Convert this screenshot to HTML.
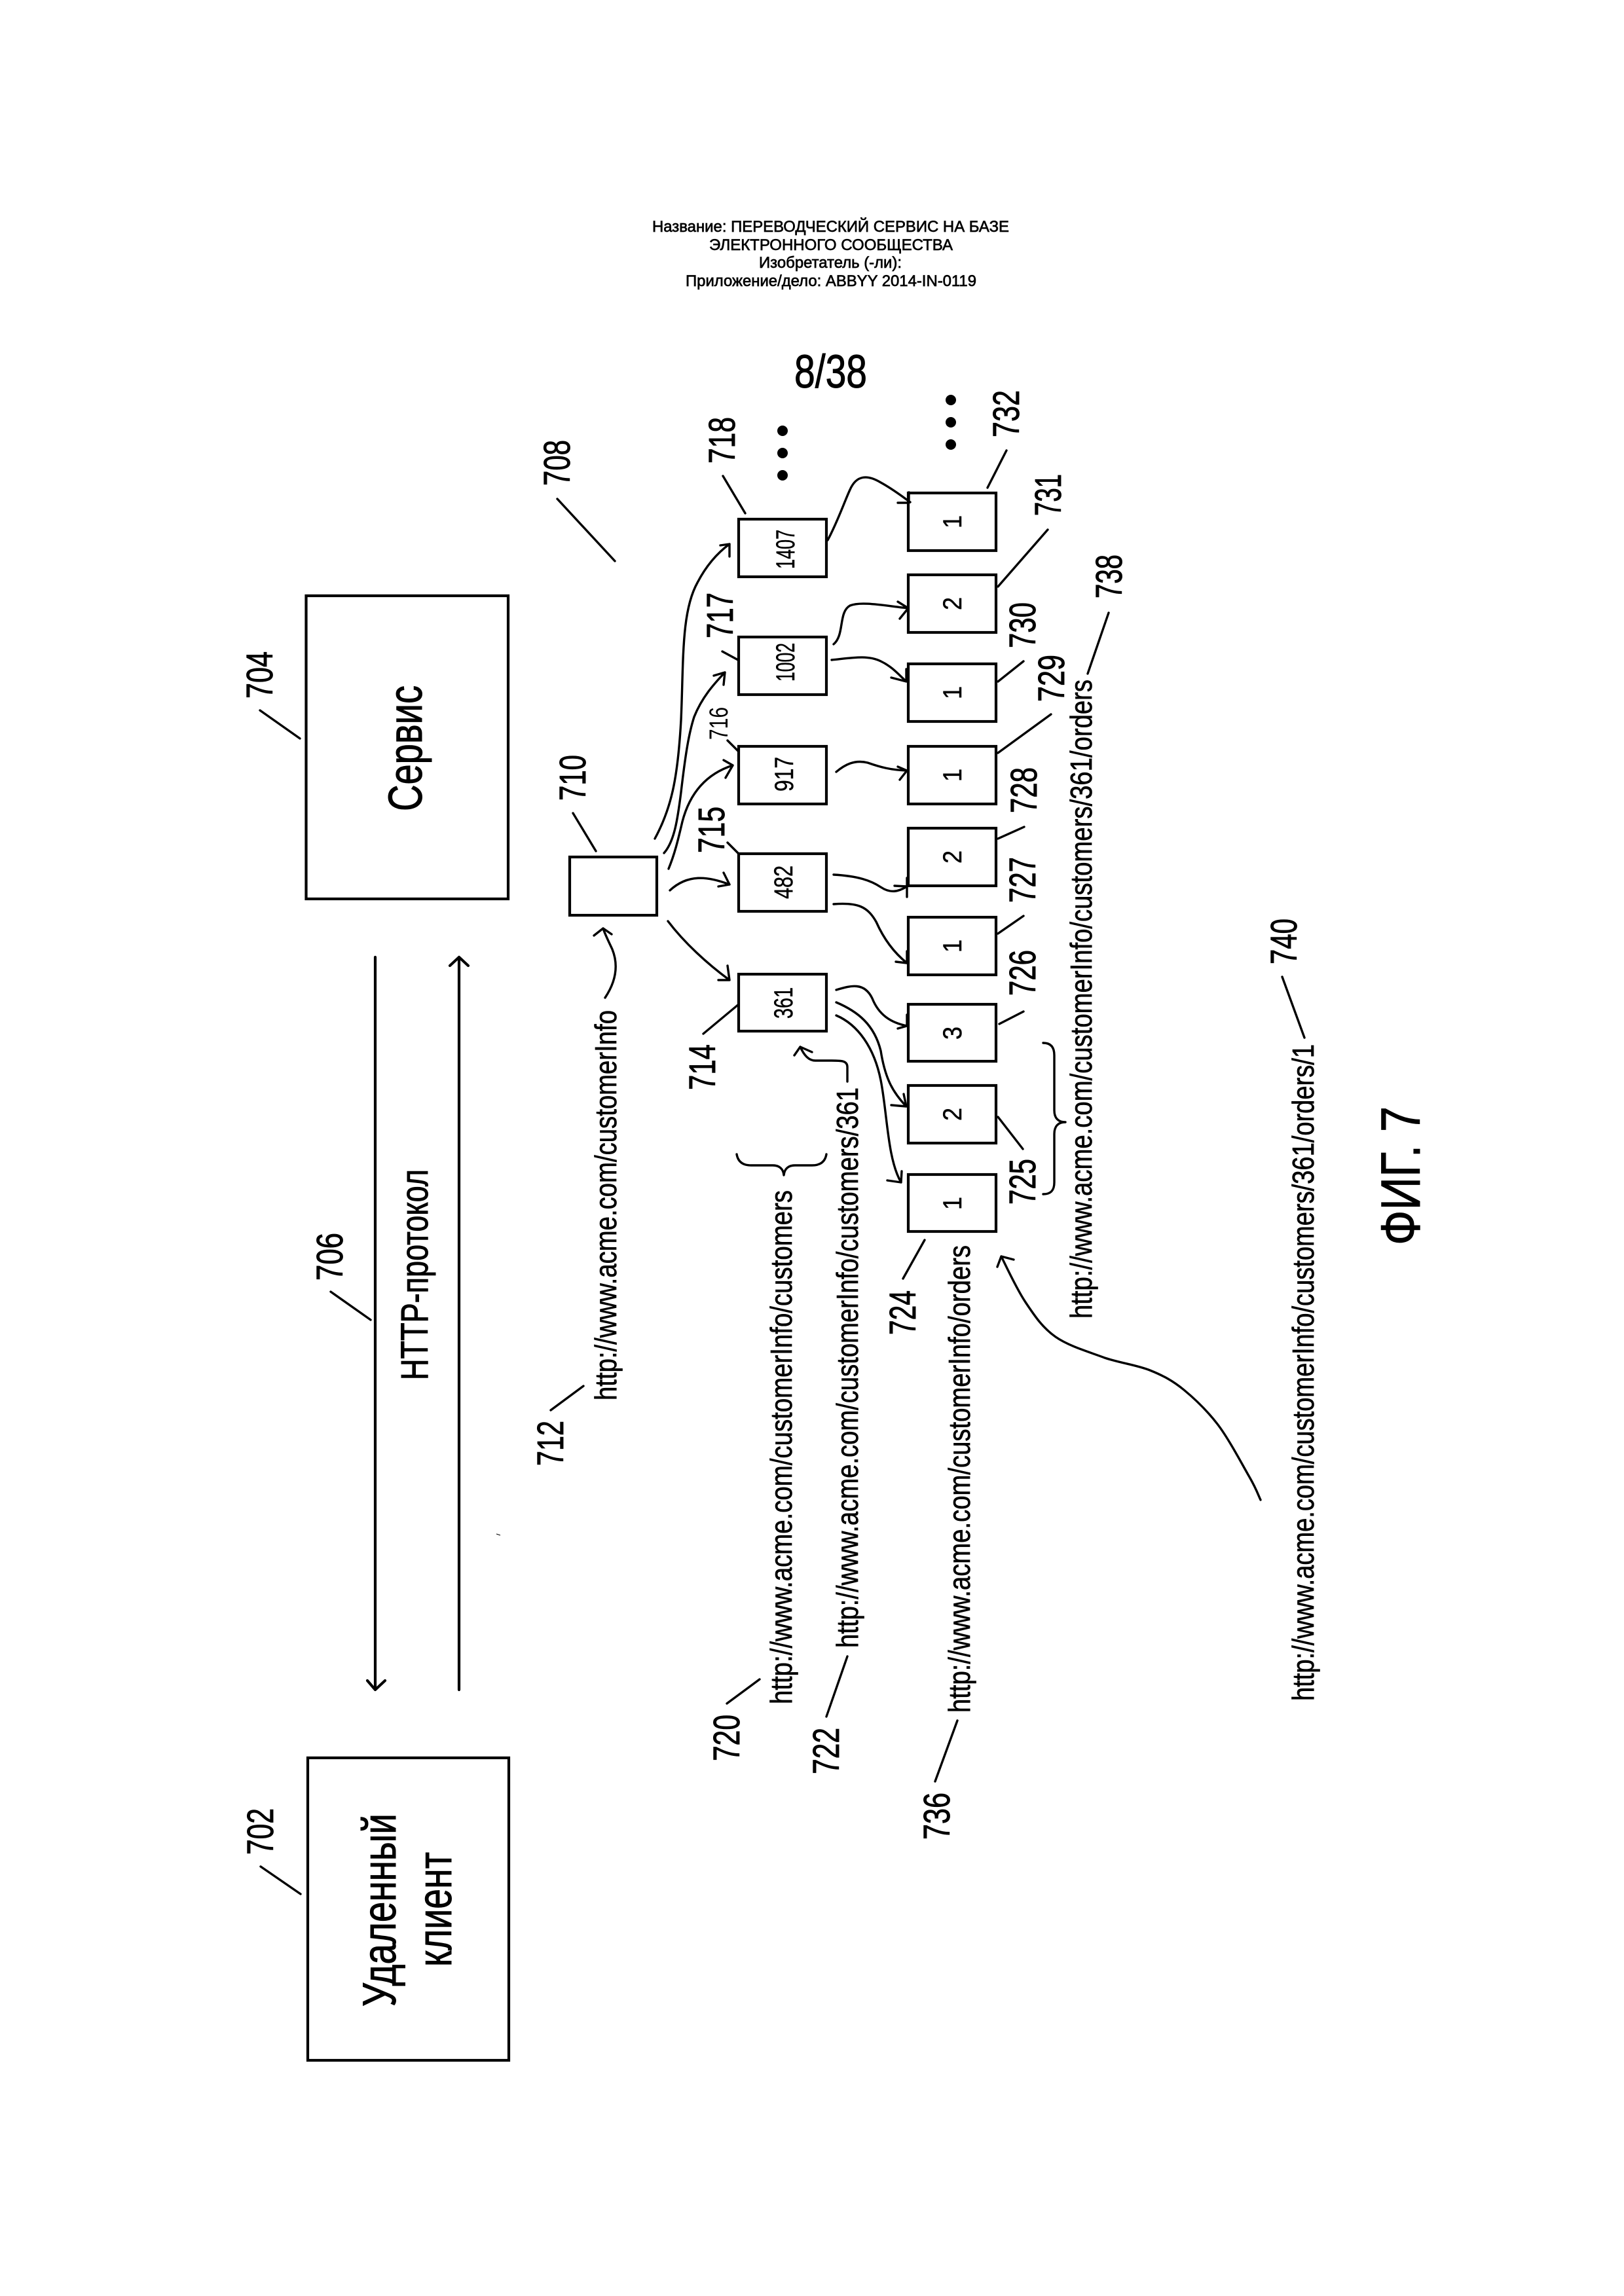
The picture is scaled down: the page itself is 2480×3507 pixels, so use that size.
<!DOCTYPE html>
<html lang="ru">
<head>
<meta charset="utf-8">
<title>ФИГ. 7</title>
<style>
html,body{margin:0;padding:0;background:#fff}
svg{display:block}
text{font-family:"Liberation Sans","DejaVu Sans",sans-serif;fill:#000}
.h{font-size:24px;stroke:#000;stroke-width:.7px}
.n{font-size:57px;stroke:#000;stroke-width:.9px}
.u{font-size:46px;stroke:#000;stroke-width:.7px}
.d{font-size:40px;stroke:#000;stroke-width:.5px}
.t{stroke:#000;stroke-width:1px}
.b{fill:#fff;stroke:#000;stroke-width:4.2}
.l{fill:none;stroke:#000;stroke-width:3.4;stroke-linecap:round;stroke-linejoin:round}
</style>
</head>
<body>
<svg xmlns="http://www.w3.org/2000/svg" width="2480" height="3507" viewBox="0 0 2480 3507">
<rect width="2480" height="3507" fill="#fff"/>

<!-- header -->
<text class="h" x="996" y="354" textLength="545" lengthAdjust="spacingAndGlyphs">Название: ПЕРЕВОДЧЕСКИЙ СЕРВИС НА БАЗЕ</text>
<text class="h" x="1083" y="382" textLength="372" lengthAdjust="spacingAndGlyphs">ЭЛЕКТРОННОГО СООБЩЕСТВА</text>
<text class="h" x="1159" y="409" textLength="218" lengthAdjust="spacingAndGlyphs">Изобретатель (-ли):</text>
<text class="h" x="1047" y="437" textLength="444" lengthAdjust="spacingAndGlyphs">Приложение/дело: ABBYY 2014-IN-0119</text>
<text class="t" x="1213" y="592" font-size="71" textLength="111" lengthAdjust="spacingAndGlyphs">8/38</text>

<!-- big boxes -->
<rect class="b" x="467.5" y="910" width="308.5" height="463"/>
<rect class="b" x="470" y="2685" width="307" height="462"/>
<text class="t" font-size="72" transform="translate(644,1239) rotate(-90)" textLength="192" lengthAdjust="spacingAndGlyphs">Сервис</text>
<text class="t" font-size="71" transform="translate(604,3065) rotate(-90)" textLength="295" lengthAdjust="spacingAndGlyphs">Удаленный</text>
<text class="t" font-size="73" transform="translate(689,3004) rotate(-90)" textLength="175" lengthAdjust="spacingAndGlyphs">клиент</text>
<text class="t" font-size="58" transform="translate(653,2108) rotate(-90)" textLength="322" lengthAdjust="spacingAndGlyphs">HTTP-протокол</text>

<!-- big arrows -->
<path d="M573 1462V2581M561 2567L573 2581L588 2567" fill="none" stroke="#000" stroke-width="4.2" stroke-linecap="round" stroke-linejoin="round"/>
<path d="M701 2581V1462M687 1475L701 1462L715 1475" fill="none" stroke="#000" stroke-width="4.2" stroke-linecap="round" stroke-linejoin="round"/>
<path d="M758 2343L764 2345" stroke="#000" stroke-width="1" fill="none"/>

<!-- tree boxes -->
<rect class="b" x="870" y="1309" width="133" height="89"/>
<rect class="b" x="1128" y="793" width="134" height="88"/>
<rect class="b" x="1128" y="973" width="134" height="88"/>
<rect class="b" x="1128" y="1140" width="134" height="88"/>
<rect class="b" x="1128" y="1304" width="134" height="88"/>
<rect class="b" x="1128" y="1488" width="134" height="87"/>
<rect class="b" x="1387" y="753" width="134" height="88"/>
<rect class="b" x="1387" y="878" width="134" height="88"/>
<rect class="b" x="1387" y="1014" width="134" height="88"/>
<rect class="b" x="1387" y="1140" width="134" height="88"/>
<rect class="b" x="1387" y="1265" width="134" height="88"/>
<rect class="b" x="1387" y="1401" width="134" height="88"/>
<rect class="b" x="1387" y="1534" width="134" height="87"/>
<rect class="b" x="1387" y="1658" width="134" height="88"/>
<rect class="b" x="1387" y="1794" width="134" height="87"/>

<!-- box values -->
<text class="d" transform="translate(1213,869) rotate(-90)" textLength="60" lengthAdjust="spacingAndGlyphs">1407</text>
<text class="d" transform="translate(1213,1041) rotate(-90)" textLength="59" lengthAdjust="spacingAndGlyphs">1002</text>
<text class="d" transform="translate(1211,1209) rotate(-90)" textLength="53" lengthAdjust="spacingAndGlyphs">917</text>
<text class="d" transform="translate(1210,1373) rotate(-90)" textLength="51" lengthAdjust="spacingAndGlyphs">482</text>
<text class="d" transform="translate(1210,1556) rotate(-90)" textLength="48" lengthAdjust="spacingAndGlyphs">361</text>
<text class="d" transform="translate(1468,807) rotate(-90)" textLength="20" lengthAdjust="spacingAndGlyphs">1</text>
<text class="d" transform="translate(1468,932) rotate(-90)" textLength="20" lengthAdjust="spacingAndGlyphs">2</text>
<text class="d" transform="translate(1468,1068) rotate(-90)" textLength="20" lengthAdjust="spacingAndGlyphs">1</text>
<text class="d" transform="translate(1468,1194) rotate(-90)" textLength="20" lengthAdjust="spacingAndGlyphs">1</text>
<text class="d" transform="translate(1468,1319) rotate(-90)" textLength="20" lengthAdjust="spacingAndGlyphs">2</text>
<text class="d" transform="translate(1468,1455) rotate(-90)" textLength="20" lengthAdjust="spacingAndGlyphs">1</text>
<text class="d" transform="translate(1468,1588) rotate(-90)" textLength="20" lengthAdjust="spacingAndGlyphs">3</text>
<text class="d" transform="translate(1468,1712) rotate(-90)" textLength="20" lengthAdjust="spacingAndGlyphs">2</text>
<text class="d" transform="translate(1468,1848) rotate(-90)" textLength="20" lengthAdjust="spacingAndGlyphs">1</text>

<!-- dots -->
<circle cx="1195" cy="658" r="8"/><circle cx="1195" cy="692" r="8"/><circle cx="1195" cy="726" r="8"/>
<circle cx="1452" cy="611" r="8"/><circle cx="1452" cy="645" r="8"/><circle cx="1452" cy="679" r="8"/>

<!-- curved connectors -->
<g class="l">
<path class="l" d="M1000 1281C1025 1235 1035 1190 1040 1100C1044 1010 1040 935 1065 890C1078 865 1095 845 1114 831M1100 833L1114 831L1114 850"/>
<path class="l" d="M1014 1303C1030 1285 1035 1250 1040 1210C1047 1150 1052 1120 1060 1095C1072 1065 1090 1045 1107 1027M1090 1032L1107 1027L1105 1046"/>
<path class="l" d="M1021 1327C1030 1305 1035 1285 1042 1255C1055 1205 1085 1180 1119 1169M1105 1161L1119 1169L1108 1188"/>
<path class="l" d="M1023 1360C1050 1335 1080 1338 1114 1351M1105 1333L1114 1351L1097 1354"/>
<path class="l" d="M1020 1407C1045 1440 1080 1472 1114 1497M1111 1475L1114 1497L1097 1497"/>
<path class="l" d="M924 1524C940 1500 945 1475 935 1450C928 1435 923 1425 921 1418M907 1429L921 1418L934 1427"/>
<path class="l" d="M1264 825C1280 795 1290 765 1298 748C1308 725 1325 725 1345 737C1365 748 1380 760 1390 767M1371 768L1388 768L1388 752"/>
<path class="l" d="M1273 984C1290 970 1280 935 1298 925C1315 918 1350 925 1387 929M1371 919L1387 929L1374 945"/>
<path class="l" d="M1270 1008C1300 1005 1325 1000 1345 1010C1362 1018 1372 1030 1384 1041M1361 1035L1384 1041L1384 1022"/>
<path class="l" d="M1277 1179C1290 1168 1305 1160 1325 1165C1345 1172 1360 1176 1385 1177M1371 1171L1385 1177L1374 1191"/>
<path class="l" d="M1273 1336C1310 1338 1330 1345 1345 1355C1360 1365 1372 1362 1385 1354M1366 1353L1385 1354M1385 1341L1385 1370"/>
<path class="l" d="M1273 1381C1310 1378 1325 1385 1338 1408C1350 1435 1365 1455 1385 1471M1368 1469L1385 1471L1385 1453"/>
<path class="l" d="M1277 1512C1300 1505 1320 1500 1332 1525C1342 1550 1360 1562 1385 1567M1371 1571L1385 1567L1385 1550"/>
<path class="l" d="M1277 1531C1310 1545 1335 1565 1345 1605C1352 1650 1365 1670 1384 1690M1361 1688L1384 1690L1380 1671"/>
<path class="l" d="M1277 1551C1310 1565 1335 1600 1345 1650C1355 1700 1355 1770 1376 1806M1355 1803L1376 1806L1377 1789"/>
<path class="l" d="M1294 1652L1294 1630C1294 1620 1285 1620 1270 1620L1245 1620C1235 1620 1228 1612 1222 1599M1213 1612L1222 1599L1240 1607"/>
<path class="l" d="M1925 2291C1922 2285 1919 2275 1908 2256C1897 2237 1876 2197 1859 2175C1842 2153 1825 2137 1808 2123C1791 2109 1776 2101 1756 2093C1736 2085 1711 2082 1687 2074C1663 2065 1632 2056 1612 2042C1592 2028 1580 2010 1566 1989C1552 1968 1535 1931 1529 1919M1548 1924L1529 1919L1523 1935"/>
<!-- braces -->
<path class="l" d="M1593 1593C1605 1593 1610 1600 1610 1612L1610 1696C1610 1708 1616 1714 1627 1714C1616 1714 1610 1720 1610 1732L1610 1806C1610 1818 1605 1824 1593 1824"/>
<path class="l" d="M1125 1763C1127 1775 1135 1780 1147 1780L1180 1780C1190 1780 1196 1785 1197 1795C1198 1785 1204 1780 1214 1780L1240 1780C1252 1780 1260 1775 1262 1763"/>
<!-- leaders -->
<path class="l" d="M397 1085L458 1128M398 2851L459 2893M505 1973L566 2016M841 2154L891 2117M851 762L939 857M1104 727L1138 784M1103 995L1127 1008M1111 1131L1128 1148M1111 1287L1127 1303M875 1242L910 1300M1074 1579L1128 1534M1508 745L1537 688M1524 896L1600 809M1524 1041L1563 1010M1524 1150L1605 1091M1524 1281L1564 1263M1524 1426L1563 1399M1526 1564L1563 1545M1524 1706L1562 1755M1379 1953L1412 1894M1661 1029L1693 936M1958 1492L1992 1585M1428 2721L1462 2628M1110 2602L1160 2565M1262 2622L1294 2530"/>
</g>

<!-- URLs -->
<text class="u" transform="translate(941,2139) rotate(-90)" textLength="596" lengthAdjust="spacingAndGlyphs">http://www.acme.com/customerInfo</text>
<text class="u" transform="translate(1209,2603) rotate(-90)" textLength="785" lengthAdjust="spacingAndGlyphs">http://www.acme.com/customerInfo/customers</text>
<text class="u" transform="translate(1310,2517) rotate(-90)" textLength="856" lengthAdjust="spacingAndGlyphs">http://www.acme.com/customerInfo/customers/361</text>
<text class="u" transform="translate(1481,2616) rotate(-90)" textLength="714" lengthAdjust="spacingAndGlyphs">http://www.acme.com/customerInfo/orders</text>
<text class="u" transform="translate(1667,2014) rotate(-90)" textLength="976" lengthAdjust="spacingAndGlyphs">http://www.acme.com/customerInfo/customers/361/orders</text>
<text class="u" transform="translate(2006,2598) rotate(-90)" textLength="1003" lengthAdjust="spacingAndGlyphs">http://www.acme.com/customerInfo/customers/361/orders/1</text>

<!-- reference numbers -->
<text class="n" transform="translate(417,2833) rotate(-90)" textLength="71" lengthAdjust="spacingAndGlyphs">702</text>
<text class="n" transform="translate(416,1067) rotate(-90)" textLength="72" lengthAdjust="spacingAndGlyphs">704</text>
<text class="n" transform="translate(523,1956) rotate(-90)" textLength="73" lengthAdjust="spacingAndGlyphs">706</text>
<text class="n" transform="translate(870,742) rotate(-90)" textLength="70" lengthAdjust="spacingAndGlyphs">708</text>
<text class="n" transform="translate(894,1223) rotate(-90)" textLength="70" lengthAdjust="spacingAndGlyphs">710</text>
<text class="n" transform="translate(860,2239) rotate(-90)" textLength="69" lengthAdjust="spacingAndGlyphs">712</text>
<text class="n" transform="translate(1092,1665) rotate(-90)" textLength="70" lengthAdjust="spacingAndGlyphs">714</text>
<text class="n" transform="translate(1106,1303) rotate(-90)" textLength="71" lengthAdjust="spacingAndGlyphs">715</text>
<text font-size="40" transform="translate(1111,1130) rotate(-90)" textLength="50" lengthAdjust="spacingAndGlyphs">716</text>
<text class="n" transform="translate(1119,975) rotate(-90)" textLength="70" lengthAdjust="spacingAndGlyphs">717</text>
<text class="n" transform="translate(1122,708) rotate(-90)" textLength="71" lengthAdjust="spacingAndGlyphs">718</text>
<text class="n" transform="translate(1129,2690) rotate(-90)" textLength="71" lengthAdjust="spacingAndGlyphs">720</text>
<text class="n" transform="translate(1281,2710) rotate(-90)" textLength="71" lengthAdjust="spacingAndGlyphs">722</text>
<text class="n" transform="translate(1398,2039) rotate(-90)" textLength="68" lengthAdjust="spacingAndGlyphs">724</text>
<text class="n" transform="translate(1581,1840) rotate(-90)" textLength="70" lengthAdjust="spacingAndGlyphs">725</text>
<text class="n" transform="translate(1581,1521) rotate(-90)" textLength="70" lengthAdjust="spacingAndGlyphs">726</text>
<text class="n" transform="translate(1581,1379) rotate(-90)" textLength="70" lengthAdjust="spacingAndGlyphs">727</text>
<text class="n" transform="translate(1583,1242) rotate(-90)" textLength="70" lengthAdjust="spacingAndGlyphs">728</text>
<text class="n" transform="translate(1625,1072) rotate(-90)" textLength="72" lengthAdjust="spacingAndGlyphs">729</text>
<text class="n" transform="translate(1581,990) rotate(-90)" textLength="70" lengthAdjust="spacingAndGlyphs">730</text>
<text class="n" transform="translate(1620,788) rotate(-90)" textLength="64" lengthAdjust="spacingAndGlyphs">731</text>
<text class="n" transform="translate(1556,668) rotate(-90)" textLength="72" lengthAdjust="spacingAndGlyphs">732</text>
<text class="n" transform="translate(1450,2810) rotate(-90)" textLength="72" lengthAdjust="spacingAndGlyphs">736</text>
<text class="n" transform="translate(1713,914) rotate(-90)" textLength="67" lengthAdjust="spacingAndGlyphs">738</text>
<text class="n" transform="translate(1980,1473) rotate(-90)" textLength="70" lengthAdjust="spacingAndGlyphs">740</text>

<!-- figure caption -->
<text class="t" font-size="84" transform="translate(2168,1902) rotate(-90)" textLength="212" lengthAdjust="spacingAndGlyphs">ФИГ. 7</text>
</svg>
</body>
</html>
